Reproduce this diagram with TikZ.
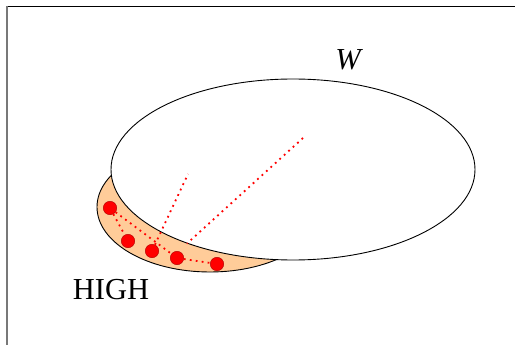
\documentclass[tikz,border=0pt]{standalone}
\usepackage{fontspec}
\setmainfont{Liberation Serif}
\usetikzlibrary{shapes.geometric}
\definecolor{peach}{RGB}{255,204,153}
\definecolor{framegray}{RGB}{120,120,120}
\tikzset{
  reddot/.style={circle, fill=red, draw=red!70!black, line width=0.4pt, minimum size=13.5pt, inner sep=0pt},
  redline/.style={red, line width=1.8pt, dash pattern=on 1.8pt off 4.2pt},
  biglabel/.style={inner sep=0pt, font=\fontsize{30.5}{32}\selectfont}
}
\begin{document}
\begin{tikzpicture}[x=1pt, y=-1pt]
\useasboundingbox (0,0) rectangle (515,345);
% frame
\draw[black, line width=1.3pt] (6,6.5) -- (515,6.5);
\draw[framegray, line width=2pt] (7,6) -- (7,345);
% regions
\node (high) [ellipse, draw=black, fill=peach, line width=0.9pt, minimum width=226pt, minimum height=130pt, inner sep=0pt] at (210,207) {};
\node (world) [ellipse, draw=black, fill=white, line width=0.9pt, minimum width=364pt, minimum height=181pt, inner sep=0pt] at (293,169.5) {};
% labels
\node (wlab) [biglabel] at (348,60) {\itshape W};
\node (hlab) [biglabel] at (111,290) {HIGH};
% points
\node (d1) [reddot] at (110,208) {};
\node (d2) [reddot] at (128,241) {};
\node (d3) [reddot] at (152,251) {};
\node (d4) [reddot] at (177,258) {};
\node (d5) [reddot] at (217,264) {};
\coordinate (e1) at (188,174);
\coordinate (e2) at (303,138);
\coordinate (e3) at (187,243.5);
% connectors
\draw[redline] (d1) -- (d2);
\draw[redline] (d1) -- (d4);
\draw[redline] (d4) -- (d5);
\draw[redline] (d3) -- (e1);
\draw[redline] (e2) -- (e3);
\end{tikzpicture}
\end{document}
